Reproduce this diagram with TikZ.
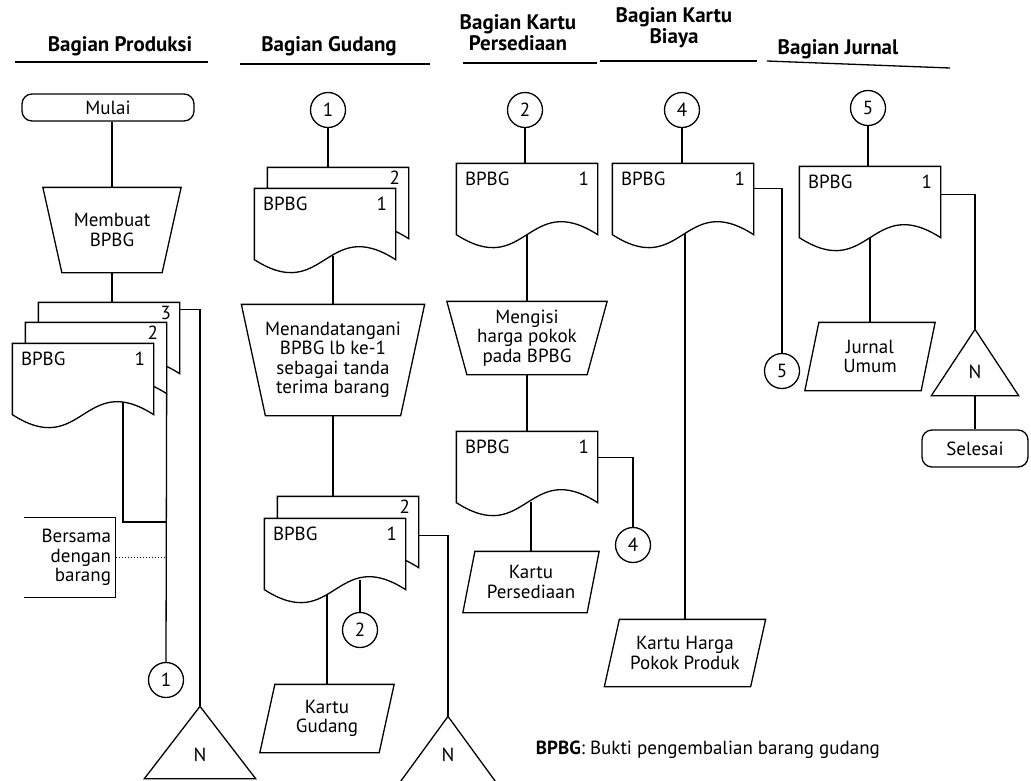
\documentclass[tikz,border=0pt]{standalone}
\usepackage{fontspec}
\setmainfont{PT Sans}
\usetikzlibrary{calc,positioning}

\tikzset{
  every node/.style={font=\fontsize{19}{19.5}\selectfont},
  header/.style={font=\fontsize{21}{21}\selectfont\bfseries, align=center},
  terminal/.style={draw, rounded corners=10pt, inner sep=0pt},
  onpage/.style={draw, circle, minimum size=35pt, inner sep=0pt},
  docbox/.style={minimum width=140pt, minimum height=70pt, inner sep=0pt},
  doctag/.style={inner xsep=8pt, inner ysep=8pt},
  manual/.style={align=center, inner sep=0pt},
  tribox/.style={inner sep=0pt}
}

% document symbol: node, outline with wavy bottom, copy number
\newcommand{\docnode}[4]{%
  \node[docbox] (#1) at (#2) {};
  \draw[fill=white] (#1.south west) -- (#1.north west) -- (#1.north east) -- (#1.south east)
    .. controls +(-70,-45) and +(70,45) .. (#1.south west) -- cycle;
  \node[doctag, inner ysep=#4, anchor=north east] (#1-n) at (#1.north east) {#3};}
\newcommand{\trapshape}[2]{\draw (#1.north west) -- (#1.north east) -- ([xshift=-#2]#1.south east) -- ([xshift=#2]#1.south west) -- cycle;}
\newcommand{\parashape}[2]{\draw ([xshift=#2]#1.north west) -- (#1.north east) -- ([xshift=-#2]#1.south east) -- (#1.south west) -- cycle;}
\newcommand{\trishape}[1]{\draw (#1.south west) -- (#1.north) -- (#1.south east) -- cycle;}

\begin{document}
\begin{tikzpicture}[x=1pt, y=-1pt, line width=1.3pt]
  \useasboundingbox (0,0) rectangle (1031,780);
  \clip (0,0) rectangle (1031,780);

  % headers
  \node[header] (hprod) at (120,46) {Bagian Produksi};
  \node[header] (hgud) at (329,46) {Bagian Gudang};
  \node[header] (hpers) at (518,33) {Bagian Kartu\\Persediaan};
  \node[header] (hbiaya) at (674,28) {Bagian Kartu\\Biaya};
  \node[header] (hjurnal) at (838,49) {Bagian Jurnal};
  \draw (15,62) -- (208,62);
  \draw (240,64) -- (430,64);
  \draw (463,63) -- (597,63);
  \draw (600,61) -- (757,61);
  \draw (767,61) -- (950,68);

  % Bagian Produksi
  \node[terminal, minimum width=172pt, minimum height=27pt] (mulai) at (108,107.5) {Mulai};
  \node[manual, minimum width=137pt, minimum height=84pt] (membuat) at (112,230) {Membuat\\BPBG};
  \trapshape{membuat}{19pt}
  \docnode{pd3}{109,338}{3}{3pt}
  \docnode{pd2}{96,358}{2}{3pt}
  \docnode{pd1}{83,379}{1}{8pt}
  \node[doctag, anchor=north west] (pd1t) at (pd1.north west) {BPBG};
  \node[align=right, text width=82pt, inner sep=4pt, minimum height=79pt] (bersama) at (70,557.5) {Bersama\\dengan\\barang};
  \draw (bersama.north west) -- (bersama.north east) -- (bersama.south east) -- (bersama.south west);
  \node[onpage] (pc1) at (166,680) {1};
  \coordinate (pj) at (166,522);
  \node[tribox, minimum width=110pt, minimum height=71pt] (pn) at (200,742.5) {};
  \trishape{pn}
  \node (pnN) at ($(pn.north)+(0,48)$) {N};

  \draw (membuat.north |- mulai.south) -- (membuat.north);
  \draw (membuat.south) -- (membuat.south |- pd3.north);
  \draw (pd2.south east) -- (pc1.north);
  \draw ($(pd1.south)+(40,-13)$) |- (pj);
  \draw[dotted, line width=1pt] (bersama.east) -- (bersama.east -| pc1.north);
  \draw ($(pd3.north east)+(0,7)$) -| (pn.north);

  % Bagian Gudang
  \node[onpage] (gc1) at (328,110) {1};
  \docnode{gd2}{338,203}{2}{3pt}
  \docnode{gd1}{325,224}{1}{8pt}
  \node[doctag, anchor=north west] (gd1t) at (gd1.north west) {BPBG};
  \node[manual, minimum width=182pt, minimum height=110pt] (gsign) at (333,360) {Menandatangani\\BPBG lb ke-1\\sebagai tanda\\terima barang};
  \trapshape{gsign}{24pt}
  \docnode{gd4}{348,532}{2}{3pt}
  \docnode{gd3}{335,554}{1}{8pt}
  \node[doctag, anchor=north west] (gd3t) at (gd3.north west) {BPBG};
  \node[onpage] (gc2) at (360,630) {2};
  \node[manual, minimum width=133pt, minimum height=67pt] (kgud) at (327,718.5) {Kartu\\Gudang};
  \parashape{kgud}{15pt}
  \node[tribox, minimum width=104pt, minimum height=71pt] (gn) at (448,752.5) {};
  \trishape{gn}
  \node (gnN) at ($(gn.north)+(0,38)$) {N};

  \draw (gc1.south) -- (gc1.south |- gd2.north);
  \draw ($(gd1.south)+(8,-4)$) -- (gsign.north);
  \draw (gsign.south) -- (gsign.south |- gd4.north);
  \draw ($(gd3.south)+(25,-10)$) -- (gc2.north);
  \draw ($(gd3.south)+(-8,4)$) -- (kgud.north);
  \draw ($(gd4.north east)+(0,39)$) -| (gn.north);

  % Bagian Kartu Persediaan
  \node[onpage] (kc2) at (525,110) {2};
  \docnode{kd1}{527,199}{1}{8pt}
  \node[doctag, anchor=north west] (kd1t) at (kd1.north west) {BPBG};
  \node[manual, minimum width=159pt, minimum height=72pt] (kisi) at (527,338) {Mengisi\\harga pokok\\pada BPBG};
  \trapshape{kisi}{20pt}
  \docnode{kd2}{527,467}{1}{8pt}
  \node[doctag, anchor=north west] (kd2t) at (kd2.north west) {BPBG};
  \node[onpage] (kc4) at (633,545) {4};
  \node[manual, minimum width=135pt, minimum height=60pt] (kpers) at (531,582) {Kartu\\Persediaan};
  \parashape{kpers}{12pt}

  \draw (kc2.south) -- (kc2.south |- kd1.north);
  \draw (kd1.south) -- (kisi.north);
  \draw (kisi.south) -- (kd2.north);
  \draw ($(kd2.north east)+(0,26)$) -| (kc4.north);
  \draw ($(kd2.south)+(4,-1)$) -- (kpers.north);

  % Bagian Kartu Biaya
  \node[onpage] (bc4) at (682,110) {4};
  \docnode{bd1}{683,199}{1}{8pt}
  \node[doctag, anchor=north west] (bd1t) at (bd1.north west) {BPBG};
  \node[onpage] (bc5) at (782,371) {5};
  \node[manual, minimum width=160pt, minimum height=66pt] (kharga) at (685,653) {Kartu Harga\\Pokok Produk};
  \parashape{kharga}{15pt}

  \draw (bc4.south) -- (bc4.south |- bd1.north);
  \draw ($(bd1.north east)+(0,25)$) -| (bc5.north);
  \draw ($(bd1.south)+(2,-1)$) -- (kharga.north);

  % Bagian Jurnal
  \node[onpage] (jc5) at (868,108) {5};
  \docnode{jd1}{870,202}{1}{8pt}
  \node[doctag, anchor=north west] (jd1t) at (jd1.north west) {BPBG};
  \node[manual, minimum width=129pt, minimum height=67pt] (jumum) at (870,356.5) {Jurnal\\Umum};
  \parashape{jumum}{14pt}
  \node[tribox, minimum width=86pt, minimum height=65pt] (jn) at (975,362.5) {};
  \trishape{jn}
  \node (jnN) at ($(jn.north)+(0,42)$) {N};
  \node[terminal, minimum width=106pt, minimum height=37pt] (selesai) at (975,448.5) {Selesai};

  \draw (jc5.south) -- (jc5.south |- jd1.north);
  \draw (jd1.south) -- (jumum.north);
  \draw ($(jd1.north east)+(0,28)$) -| (jn.north);
  \draw (jn.south) -- (selesai.north);

  \node[anchor=west] (legend) at (532,750) {\textbf{BPBG}: Bukti pengembalian barang gudang};
\end{tikzpicture}
\end{document}
